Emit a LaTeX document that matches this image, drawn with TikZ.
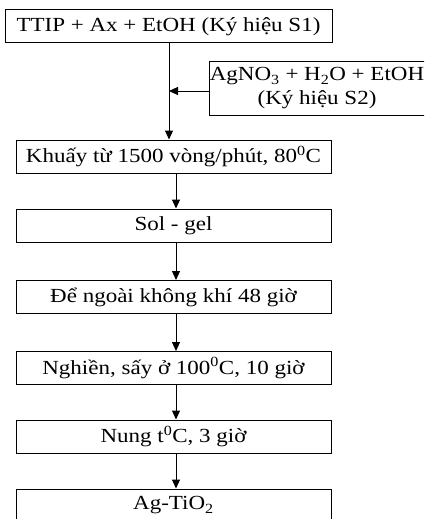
\documentclass[tikz,border=0pt]{standalone}
\usepackage{fontspec}
\setmainfont[FakeStretch=1.15]{Liberation Serif}
\usetikzlibrary{arrows.meta}
\begin{document}
\begin{tikzpicture}[x=1pt,y=-1pt,
  box/.style={draw,line width=1pt,rectangle,inner sep=0pt,minimum height=33pt,
    font=\fontsize{20}{24}\selectfont},
  conn/.style={line width=1pt,-{Triangle[length=9pt,width=8pt]}}]
\useasboundingbox (0,0) rectangle (424,519);
\clip (0,0) rectangle (424,519);
\node[box,minimum width=327pt] (s1) at (168.5,26.5) {TTIP + Ax + EtOH (Ký hiệu S1)};
\node[box,minimum width=216pt,minimum height=53pt,align=center] (s2) at (317,88.5)
  {AgNO\textsubscript{3} + H\textsubscript{2}O + EtOH\\(Ký hiệu S2)};
\node[box,minimum width=315pt] (b2) at (173.5,156.5) {Khuấy từ 1500 vòng/phút, 80\textsuperscript{0}C};
\node[box,minimum width=315pt] (b3) at (173.5,225.5) {Sol - gel};
\node[box,minimum width=315pt] (b4) at (173.5,297) {Để ngoài không khí 48 giờ};
\node[box,minimum width=315pt] (b5) at (173.5,368) {Nghiền, sấy ở 100\textsuperscript{0}C, 10 giờ};
\node[box,minimum width=315pt] (b6) at (173.5,436.5) {Nung t\textsuperscript{0}C, 3 giờ};
\node[box,minimum width=315pt] (b7) at (173.5,505.5) {Ag-TiO\textsubscript{2}};
\coordinate (j) at (169,91);
\draw[conn] (s1.south -| j) -- (b2.north -| j);
\draw[conn] (s2.west |- j) -- (j);
\coordinate (k) at (176,0);
\draw[conn] (b2.south -| k) -- (b3.north -| k);
\draw[conn] (b3.south -| k) -- (b4.north -| k);
\draw[conn] (b4.south -| k) -- (b5.north -| k);
\draw[conn] (b5.south -| k) -- (b6.north -| k);
\draw[conn] (b6.south -| k) -- (b7.north -| k);
\end{tikzpicture}
\end{document}
